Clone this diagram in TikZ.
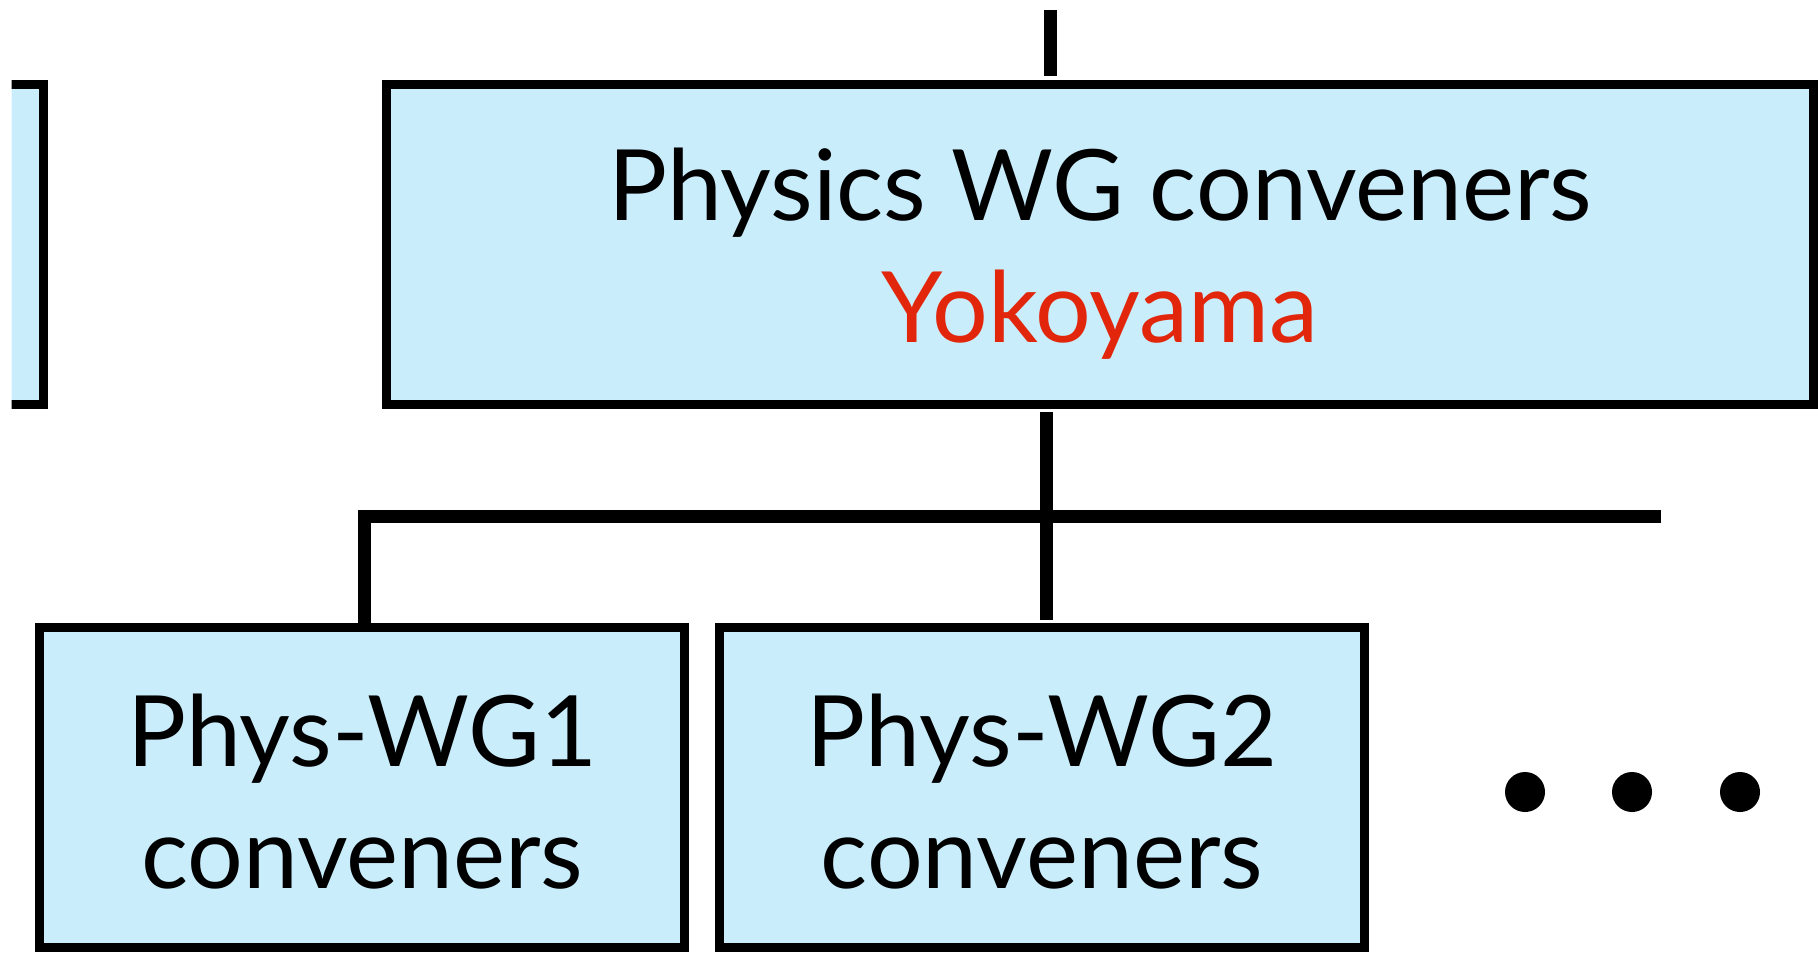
\documentclass[tikz,border=0pt]{standalone}
\usepackage{fontspec}
\setmainfont{Lato}
\usetikzlibrary{calc}
\definecolor{boxfill}{RGB}{201,237,251}
\definecolor{namered}{RGB}{226,38,12}
\begin{document}
\begin{tikzpicture}[x=0.01cm,y=-0.01cm,
  wgbox/.style={draw=black, fill=boxfill, line width=0.09cm, inner sep=0pt, align=center,
    font=\fontsize{28}{34.7}\selectfont},
  conn/.style={draw=black, line width=0.13cm, line cap=butt, line join=miter},
  dot/.style={fill=black}]
\useasboundingbox (0,0) rectangle (1818,957);
% partially visible box at the left edge
\begin{scope}
  \clip (11.5,0) rectangle (80,957);
  \node[wgbox, minimum width=3cm, minimum height=3.199cm, anchor=east] (prev) at (48.3,244.75) {};
\end{scope}
% main box
\node[wgbox, minimum width=14.268cm, minimum height=3.199cm] (main) at (1100.1,244.75)
  {\rule{0pt}{0.91cm}Physics WG conveners\\\textcolor{namered}{Yokoyama}};
% sub boxes
\node[wgbox, minimum width=6.445cm, minimum height=3.195cm] (wg1) at (362.25,787.75)
  {\rule{0pt}{0.80cm}Phys-WG1\\conveners};
\node[wgbox, minimum width=6.44cm, minimum height=3.197cm] (wg2) at (1042,787.65)
  {\rule{0pt}{0.80cm}Phys-WG2\\conveners};
% connectors
\coordinate (topend) at (1050,10);
\draw[conn] (topend) -- ($(main.north -| topend)+(0,-4)$);
\coordinate (hub) at (1046,516);
\coordinate (busleft) at (364.5,516);
\coordinate (busright) at (1661,516);
\draw[conn] ($(main.south -| hub)+(0,3)$) -- ($(wg2.north -| hub)+(0,-3)$);
\draw[conn] (busright) -- (busleft) -- (wg1.north -| busleft);
% ellipsis dots
\fill[dot] (1525,792) circle[radius=0.2cm];
\fill[dot] (1632,792) circle[radius=0.2cm];
\fill[dot] (1740,792) circle[radius=0.2cm];
\end{tikzpicture}
\end{document}
